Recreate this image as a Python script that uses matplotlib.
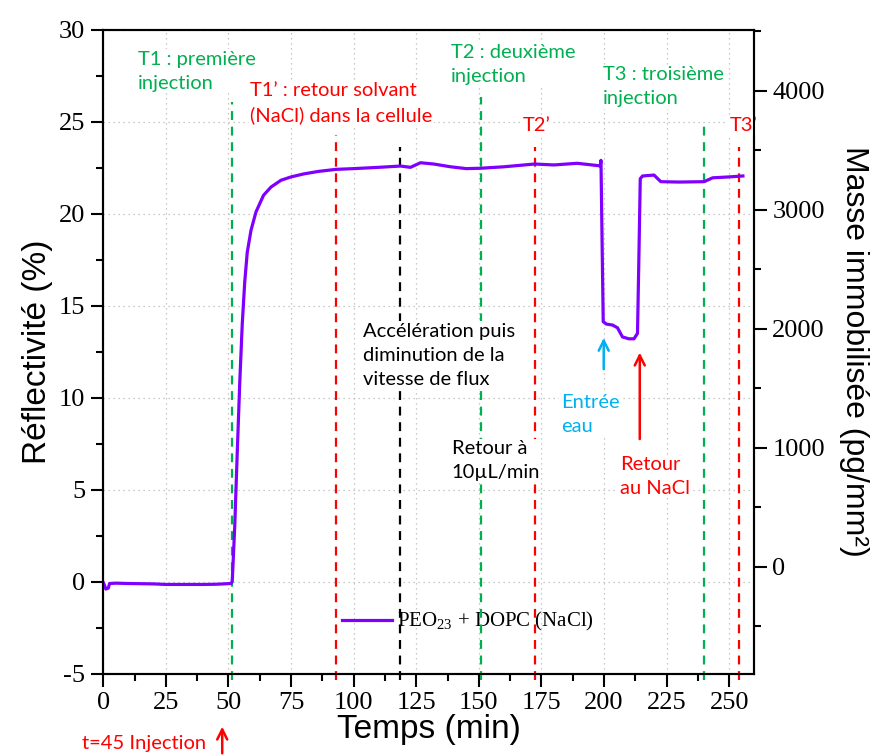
import matplotlib.pyplot as plt
from matplotlib.ticker import MultipleLocator

# courbe SPR (temps en min, reflectivite en %)
temps = [0, 0.5, 1, 2, 2.5, 5, 10, 20, 25, 30, 40, 45, 51, 51.5, 52.5, 53.5, 54.5,
         55.5, 56.5, 57.5, 59, 61, 64, 67, 71, 75, 80, 86, 93, 100, 110, 118.7,
         122.7, 126.7, 132, 138.7, 145, 150.7, 160, 172.3, 180, 189.3, 198.5,
         198.8, 199.3, 199.7, 201, 203.4, 205.4, 207.4, 210, 212, 213.4, 214,
         214.5, 215.4, 220, 222.7, 230, 240, 243.4, 250, 255.5]
reflectivite = [-0.05, -0.2, -0.4, -0.35, -0.1, -0.08, -0.1, -0.12, -0.15, -0.15,
                -0.15, -0.14, -0.1, 0.0, 3.0, 7.0, 10.8, 14.0, 16.3, 17.9, 19.1,
                20.1, 21.0, 21.45, 21.82, 22.0, 22.16, 22.3, 22.41, 22.45, 22.52,
                22.59, 22.52, 22.77, 22.7, 22.55, 22.45, 22.47, 22.55, 22.7, 22.65,
                22.74, 22.6, 22.9, 18.0, 14.13, 14.0, 13.95, 13.8, 13.3, 13.2, 13.2,
                13.5, 18.0, 21.9, 22.05, 22.1, 21.74, 21.72, 21.74, 21.95, 22.0,
                22.05]

# lignes verticales (temps, haut de la ligne, couleur)
vl_temps = [51.5, 93.1, 118.7, 150.7, 172.5, 240.0, 254.0]
vl_haut = [26.07, 24.28, 23.63, 26.34, 23.63, 24.82, 23.63]
vl_couleur = ['#00b050', '#ff0000', '#000000', '#00b050', '#ff0000', '#00b050', '#ff0000']

# annotations
notes = [
    ("T1 : première\ninjection", 13.9, 27.75, '#00b050'),
    ("T1’ : retour solvant\n(NaCl) dans la cellule", 58.7, 26.0, '#ff0000'),
    ("T2 : deuxième\ninjection", 138.7, 28.1, '#00b050'),
    ("T3 : troisième\ninjection", 199.5, 26.9, '#00b050'),
    ("T2’", 167.5, 24.8, '#ff0000'),
    ("T3’", 250.3, 24.8, '#ff0000'),
    ("Accélération puis\ndiminution de la\nvitesse de flux", 103.9, 12.32, '#000000'),
    ("Retour à\n10µL/min", 139.1, 6.56, '#000000'),
    ("Entrée\neau", 182.7, 9.11, '#00b0f0'),
    ("Retour\nau NaCl", 206.3, 5.72, '#ff0000'),
]

plt.rcParams['mathtext.fontset'] = 'custom'
plt.rcParams['mathtext.rm'] = 'Liberation Serif'
plt.rcParams['axes.unicode_minus'] = False

fig = plt.figure(figsize=(8.8, 7.56), dpi=100)
ax = fig.add_axes([0.1174, 0.1089, 0.7396, 0.8518])
ax.set_axisbelow(True)

ax.plot(temps, reflectivite, color='#8000ff', lw=2.3, zorder=6,
        label='PEO$_{23}$ + DOPC (NaCl)')

for x, h, c in zip(vl_temps, vl_haut, vl_couleur):
    ax.vlines(x, -5.35, h, colors=c, linestyles=(0, (4, 3)), lw=1.6,
              zorder=3, clip_on=False)

for txt, x, y, c in notes:
    ax.text(x, y, txt, color=c, fontsize=14.5, family='Lato', ha='left', va='center',
            linespacing=1.5, zorder=4,
            bbox=dict(facecolor='white', edgecolor='none', pad=1))

ax.text(-8.5, -8.77, "t=45 Injection", color='#ff0000', fontsize=14.5, family='Lato',
        ha='left', va='center', clip_on=False)

fleche = dict(arrowstyle='->', lw=1.8, mutation_scale=18)
ax.annotate('', xy=(199.9, 13.4), xytext=(199.9, 11.4),
            arrowprops=dict(fleche, color='#00b0f0'), zorder=5)
ax.annotate('', xy=(214.3, 12.6), xytext=(214.3, 7.6),
            arrowprops=dict(fleche, color='#ff0000'), zorder=5)
ax.annotate('', xy=(47.5, -7.73), xytext=(47.5, -9.48),
            arrowprops=dict(fleche, color='#ff0000'), annotation_clip=False)

ax.set_xlim(0, 260)
ax.set_ylim(-5, 30)
ax.xaxis.set_major_locator(MultipleLocator(25))
ax.xaxis.set_minor_locator(MultipleLocator(12.5))
ax.yaxis.set_major_locator(MultipleLocator(5))
ax.yaxis.set_minor_locator(MultipleLocator(2.5))
ax.grid(True, which='major', color='#b8b8b8', linestyle=(0, (1, 3)), lw=0.9)

for s in ax.spines.values():
    s.set_linewidth(1.5)
ax.tick_params(which='major', direction='out', length=9, width=1.5, labelsize=19, pad=4)
ax.tick_params(which='minor', direction='out', length=5, width=1.5)
for lab in ax.get_xticklabels() + ax.get_yticklabels():
    lab.set_family('Liberation Serif')

ax.set_xlabel('Temps (min)', fontsize=24, family='Liberation Sans', labelpad=0)
ax.set_ylabel('Réflectivité (%)', fontsize=24, family='Liberation Sans', labelpad=4)

# axe droit : masse immobilisee
ax2 = ax.twinx()
ax2.set_ylim(-900, 4512)
ax2.yaxis.set_major_locator(MultipleLocator(1000))
ax2.yaxis.set_minor_locator(MultipleLocator(500))
ax2.tick_params(which='major', direction='out', length=9, width=1.5, labelsize=19, pad=4)
ax2.tick_params(which='minor', direction='out', length=5, width=1.5)
for lab in ax2.get_yticklabels():
    lab.set_family('Liberation Serif')
for s in ax2.spines.values():
    s.set_linewidth(1.5)
ax2.set_ylabel('Masse immobilisée (pg/mm²)', fontsize=23, family='Liberation Sans',
               rotation=-90, labelpad=32)

leg = ax.legend(loc='center left', bbox_to_anchor=(0.367, 0.0803), frameon=False,
                prop={'family': 'Liberation Serif', 'size': 15}, handlelength=2.4,
                handletextpad=0.25, borderpad=0, borderaxespad=0)
leg.set_zorder(2)

fig.savefig('out.png', dpi=100)
